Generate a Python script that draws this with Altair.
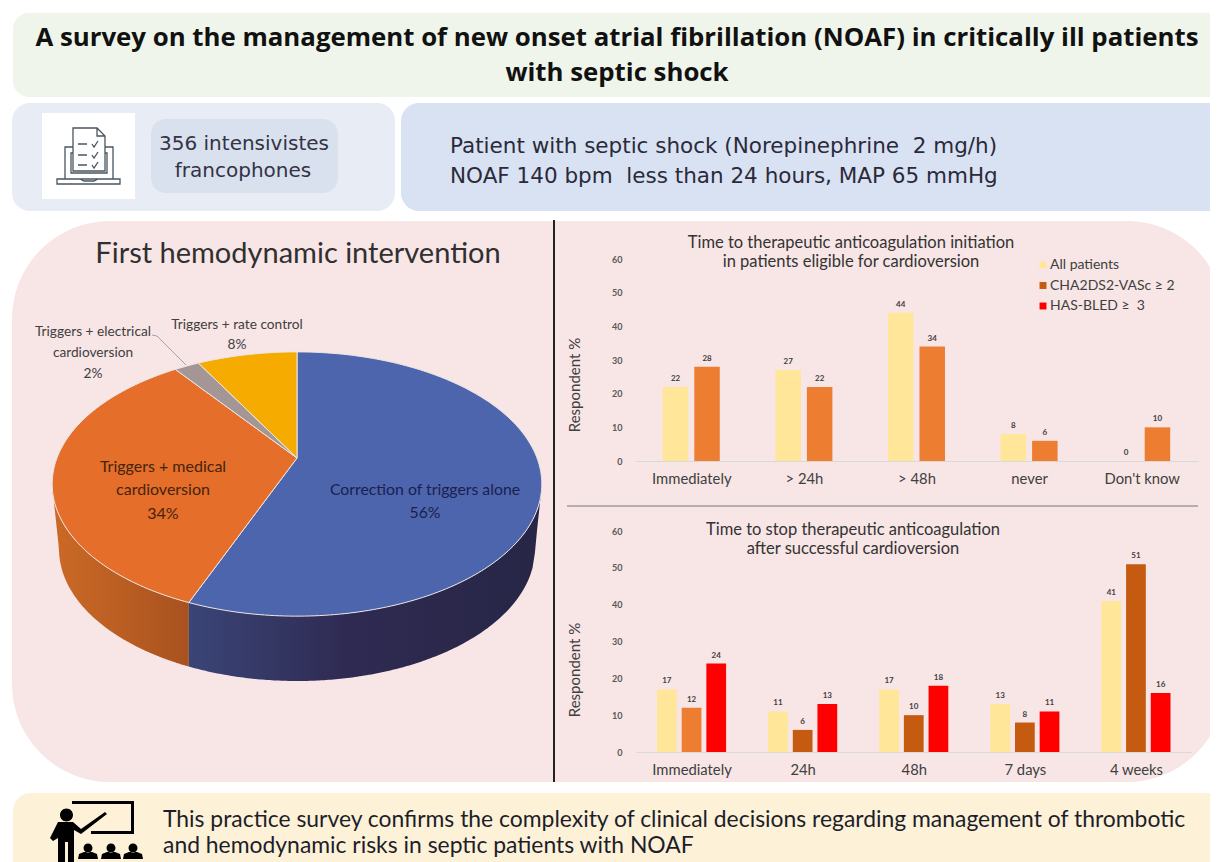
import numpy as np
import pandas as pd
import altair as alt

# ---------- data ----------
title_lines = ["A survey on the management of new onset atrial fibrillation (NOAF) in critically ill patients", "with septic shock"]
info_left = ["356 intensivistes", "francophones"]
info_right = ["Patient with septic shock (Norepinephrine\u00a0 2 mg/h)", "NOAF 140 bpm\u00a0 less than 24 hours, MAP 65 mmHg"]
pie_title = "First hemodynamic intervention"
pie_names = ["Correction of triggers alone", "Triggers + medical cardioversion", "Triggers + electrical cardioversion", "Triggers + rate control"]
pie_values = [56, 34, 2, 8]
pie_colors = ["#4d65ad", "#e46e2a", "#a39694", "#f5ab00"]
series = ["All patients", "CHA2DS2-VASc ≥ 2", "HAS-BLED ≥\u00a0 3"]
legend_colors = ["#ffe699", "#c55a11", "#ff0000"]
tones = ["yellow", "orange", "brown", "red"]
tone_colors = ["#ffe699", "#ed7d31", "#c55a11", "#ff0000"]
y_ticks = [0, 10, 20, 30, 40, 50, 60]
c1_cats = ["Immediately", "> 24h", "> 48h", "never", "Don't know"]
c1_all = [22, 27, 44, 8, 0]
c1_cha = [28, 22, 34, 6, 10]
c2_cats = ["Immediately", "24h", "48h", "7 days", "4 weeks"]
c2_all = [17, 11, 17, 13, 41]
c2_cha = [12, 6, 10, 8, 51]
c2_has = [24, 13, 18, 11, 16]
c2_cha_tones = ["orange", "brown", "brown", "brown", "brown"]
conclusion = ["This practice survey confirms the complexity of clinical decisions regarding management of thrombotic",
              "and hemodynamic risks in septic patients with NOAF"]

W, H = 1202, 854
dummy = pd.DataFrame({"a": [0]})
LATO = "Lato"


def box(x1, y1, x2, y2, color, r=0):
    return alt.Chart(dummy).mark_rect(color=color, cornerRadius=r).encode(
        x=alt.value(x1 - 8), x2=alt.value(x2 - 8), y=alt.value(y1 - 8), y2=alt.value(y2 - 8))


def seg(x1, y1, x2, y2, color, w=1.0):
    return alt.Chart(dummy).mark_rule(color=color, strokeWidth=w).encode(
        x=alt.value(x1 - 8), x2=alt.value(x2 - 8), y=alt.value(y1 - 8), y2=alt.value(y2 - 8))


def txt(s, x, y, size, color="#222222", font=LATO, weight="normal", align="center", angle=0):
    kw = {"angle": angle} if angle else {}
    return alt.Chart(pd.DataFrame({"t": [s]})).mark_text(
        fontSize=size, color=color, font=font, fontWeight=weight, align=align, baseline="middle", **kw
    ).encode(x=alt.value(x - 8), y=alt.value(y - 8), text="t:N")


def icon_path(cx, cy, half, polys=(), circles=()):
    def n(x, y):
        return f"{(x - cx) / half:.4f},{(y - cy) / half:.4f}"
    out = []
    for pts, closed in polys:
        out.append("M" + " L".join(n(*p) for p in pts) + (" Z" if closed else ""))
    for x, y, r in circles:
        rr = r / half
        out.append(f"M{n(x - r, y)} A{rr:.4f},{rr:.4f} 0 1,0 {n(x + r, y)} A{rr:.4f},{rr:.4f} 0 1,0 {n(x - r, y)} Z")
    return " ".join(out)


def icon(path, cx, cy, half, filled, color, sw=1.0):
    return alt.Chart(dummy).mark_point(shape=path, size=(2 * half) ** 2, filled=filled, color=color,
                                       strokeWidth=sw, opacity=1).encode(
        x=alt.value(cx - 8), y=alt.value(cy - 8))


# ---------- icons ----------
lap = [
    ([(73, 128), (97, 128), (105, 136), (105, 171), (73, 171)], True),
    ([(97, 128), (97, 136), (105, 136)], False),
    ([(73, 147), (65, 147), (65, 179)], False), ([(105, 147), (113, 147), (113, 179)], False),
    ([(73, 153), (71, 153), (71, 173), (107, 173), (107, 153), (105, 153)], False),
    ([(57, 179), (120, 179), (120, 184), (57, 184)], True),
    ([(80, 179), (84, 181), (94, 181), (98, 179)], False),
]
for yy in (144, 155, 165):
    lap.append(([(78, yy), (87, yy)], False))
    lap.append(([(92, yy), (94, yy + 3), (98, yy - 3)], False))
lap_path = icon_path(88.5, 156, 33, lap)

teach_polys = [
    ([(72, 801), (134, 801), (134, 834), (91, 834), (91, 831), (131, 831), (131, 804), (72, 804)], True),
    ([(58, 822), (73, 822), (81, 829), (105, 812), (107, 814), (81, 834), (74, 830), (74, 862), (68, 862), (68, 842), (65, 842), (65, 862), (58, 862),
      (58, 838), (53, 841), (50, 838)], True),
]
for hx in (88, 111, 133):
    teach_polys.append(([(hx - 10, 859), (hx - 9, 854), (hx - 4, 852), (hx + 4, 852), (hx + 9, 854), (hx + 10, 859)], True))
teach_path = icon_path(95, 830, 50, teach_polys,
                       [(66.5, 815, 6.5), (88, 848, 4.5), (111, 848, 4.5), (133, 848, 4.5)])

# ---------- pie geometry, derived from the shares ----------
AX, AY, A, B, K = 297.0, 458.0, 240.0, 127.0, 0.197


def rim(theta):
    w = 1 + K * np.cos(theta)
    return AX + A * np.sin(theta) / w, AY - B * np.cos(theta) / w


edges = np.cumsum([0] + pie_values) / sum(pie_values) * 2 * np.pi
features = []
for i, name in enumerate(pie_names):
    th = np.linspace(edges[i], edges[i + 1], max(int((edges[i + 1] - edges[i]) * 60), 4))
    xs, ys = rim(th)
    ring = [[AX - 8, AY - 8]] + [[float(a) - 8, float(b) - 8] for a, b in zip(xs, ys)] + [[AX - 8, AY - 8]]
    features.append({"type": "Feature", "properties": {"name": name},
                     "geometry": {"type": "Polygon", "coordinates": [ring]}})

pie_top = alt.Chart(alt.Data(values=features)).mark_geoshape(stroke="#eee6e4", strokeWidth=1).encode(
    color=alt.Color("properties.name:N", scale=alt.Scale(domain=pie_names, range=pie_colors), legend=None)
).project(type="identity", scale=1, translate=[0, 0])

seam_x = float(rim(edges[1])[0])
CX, CY, RX, RY = 297.0, 484.0, 245.0, 132.0
LRX, LCY, LRY = 238.0, 549.0, 132.0


def side(x0, x1):
    x = np.linspace(x0, x1, 150)
    dx = np.abs(x - CX)
    top = CY + RY * np.sqrt(np.clip(1 - (dx / RX) ** 2, 0, 1))
    low = np.where(dx < LRX, LCY + LRY * np.sqrt(np.clip(1 - (dx / LRX) ** 2, 0, 1)),
                   CY + (LCY - CY) * (RX - dx) / (RX - LRX))
    return pd.DataFrame({"x": x - 8, "y": top - 8, "y2": low - 8})


def grad(stops):
    return alt.LinearGradient(gradient="linear", x1=0, x2=1, y1=0, y2=0,
                              stops=[alt.GradientStop(color=c, offset=o) for o, c in stops])


def side_layer(df, stops):
    return alt.Chart(df).mark_area(color=grad(stops), strokeWidth=0).encode(
        x=alt.X("x:Q", scale=None, axis=None), y=alt.Y("y:Q", scale=None, axis=None), y2="y2:Q")


side_left = side_layer(side(CX - RX, seam_x), [(0, "#cc6a26"), (1, "#a8521f")])
side_right = side_layer(side(seam_x, CX + RX), [(0, "#3a4577"), (0.45, "#2f2a52"), (1, "#272646")])


# ---------- bar panels ----------
def bars(df, cats, used, xr, yr, inner, off_inner):
    x_scale = alt.Scale(domain=cats, range=xr, paddingInner=inner, paddingOuter=inner / 2)
    y_scale = alt.Scale(domain=[0, 60], range=yr, nice=False)
    base = alt.Chart(df).encode(
        x=alt.X("cat:N", sort=cats, axis=None, scale=x_scale),
        xOffset=alt.XOffset("series:N", sort=used, scale=alt.Scale(domain=used, paddingInner=off_inner)),
        y=alt.Y("value:Q", axis=None, scale=y_scale),
    )
    b = base.mark_bar().encode(color=alt.Color("tone:N", scale=alt.Scale(domain=tones, range=tone_colors), legend=None))
    t = base.mark_text(dy=-8, fontSize=8, color="#404040", font=LATO, fontWeight="bold").encode(text="value:Q")
    # a separate, invisible unit carries the real axes, on the same scales
    yaxis = alt.Axis(values=y_ticks, domain=False, ticks=False, grid=False, orient="left", zindex=1,
                     labelFontSize=9, labelColor="#595959", labelFont=LATO, labelFontWeight="bold",
                     labelPadding=2, offset=-(624 - 8), title=None)
    xaxis = alt.Axis(domainColor="#d9d9d9", ticks=False, grid=False, orient="bottom", zindex=1,
                     labelFontSize=14.8, labelColor="#404040",
                     labelFont=LATO, labelAngle=0, labelPadding=10, offset=-(H - yr[0]), title=None)
    ax = alt.Chart(df).mark_point(opacity=0).encode(
        x=alt.X("cat:N", sort=cats, axis=xaxis, scale=x_scale),
        y=alt.Y("value:Q", axis=yaxis, scale=y_scale),
    )
    return [ax, alt.layer(b, t)]


def table(cats, cols):
    rows = []
    for s, vals, tn in cols:
        for c, v, k in zip(cats, vals, tn):
            rows.append({"cat": c, "series": s, "value": v, "tone": k})
    return pd.DataFrame(rows)


df1 = table(c1_cats, [(series[0], c1_all, ["yellow"] * 5), (series[1], c1_cha, ["orange"] * 5)])
df2 = table(c2_cats, [(series[0], c2_all, ["yellow"] * 5), (series[1], c2_cha, c2_cha_tones), (series[2], c2_has, ["red"] * 5)])
panel1 = bars(df1, c1_cats, series[:2], [635 - 8, 1198 - 8], [461 - 8, 259 - 8], 0.494, 0.19)
panel2 = bars(df2, c2_cats, series, [636 - 8, 1191.5 - 8], [752 - 8, 531 - 8], 0.378, 0.2)

legend_df = pd.DataFrame({"s": series})
legend_base = alt.Chart(legend_df).encode(
    y=alt.Y("s:N", sort=series, axis=None,
            scale=alt.Scale(domain=series, range=[265 - 8, 306 - 8], type="point", padding=0)))
legend_marks = alt.layer(
    legend_base.mark_square(size=48, opacity=1).encode(
        x=alt.value(1043 - 8),
        color=alt.Color("s:N", scale=alt.Scale(domain=series, range=legend_colors), legend=None)),
    legend_base.mark_text(align="left", baseline="middle", fontSize=14, color="#404040", font=LATO).encode(
        x=alt.value(1050 - 8), text="s:N"),
)

# ---------- assembly ----------
layers = [
    box(13, 13, 1232, 97, "#eff5ea", 16),
    box(12, 103, 395, 211, "#e8ecf4", 18),
    box(42, 113, 135, 199, "#ffffff"),
    box(151, 119, 338, 193, "#d9e1ee", 15),
    box(401, 103, 1240, 211, "#d9e2f2", 18),
    box(12, 221, 1225, 782, "#f8e5e6", 98),
    box(13, 793, 1240, 900, "#fdf2d8", 18),
    icon(lap_path, 88.5, 156, 33, False, "#4a5560", 1.3),
    icon(teach_path, 95, 830, 50, True, "#000000"),
    seg(554, 220, 554, 782, "#222222", 2),
    seg(567, 506, 1198, 506, "#a09a9a", 1.5),
    txt(title_lines[0], 617, 38, 25.8, "#111111", "Open Sans", "bold"),
    txt(title_lines[1], 617, 73, 25.8, "#111111", "Open Sans", "bold"),
    txt(info_left[0], 244, 144, 20, "#333344", "DejaVu Sans"),
    txt(info_left[1], 243, 171, 20, "#333344", "DejaVu Sans"),
    txt(info_right[0], 450, 147, 21.5, "#2a2a3a", "DejaVu Sans", align="left"),
    txt(info_right[1], 450, 177, 21.5, "#2a2a3a", "DejaVu Sans", align="left"),
    txt(pie_title, 298, 254, 29, "#303030"),
    side_left, side_right, pie_top,
    seg(152, 335, 157, 336, "#a5a0a0"), seg(157, 336, 186, 365, "#a5a0a0"),
    txt("Triggers + rate control", 237, 325, 13.7, "#404040"),
    txt("8%", 237, 345, 13.7, "#404040"),
    txt("Triggers + electrical", 93, 332, 13.7, "#404040"),
    txt("cardioversion", 93, 353, 13.7, "#404040"),
    txt("2%", 93, 374, 13.7, "#404040"),
    txt("Triggers + medical", 163, 467, 16, "#45240e"),
    txt("cardioversion", 163, 490, 16, "#45240e"),
    txt("34%", 163, 514, 16, "#45240e"),
    txt("Correction of triggers alone", 425, 490, 15.8, "#1a2050"),
    txt("56%", 425, 513, 15.8, "#1a2050"),
    txt("Time to therapeutic anticoagulation initiation", 851, 243, 16.5, "#333333"),
    txt("in patients eligible for cardioversion", 851, 262, 16.5, "#333333"),
    txt("Time to stop therapeutic anticoagulation", 853, 530, 16.5, "#333333"),
    txt("after successful cardioversion", 853, 549, 16.5, "#333333"),
    txt("Respondent %", 575, 385, 15, "#404040", angle=270),
    txt("Respondent %", 575, 670, 15, "#404040", angle=270),
    *panel1, *panel2, legend_marks,
    txt(conclusion[0], 163, 820, 22.9, "#1e1e2a", align="left"),
    txt(conclusion[1], 163, 846, 22.9, "#1e1e2a", align="left"),
]

chart = alt.layer(*layers).resolve_scale(
    x="independent", y="independent", xOffset="independent", color="independent"
).resolve_axis(x="independent", y="independent").properties(
    width=W, height=H, padding=0, autosize=alt.AutoSizeParams(type="none")
).configure_view(stroke=None)

chart.save("out.html", embed_options={"renderer": "svg", "actions": False})
